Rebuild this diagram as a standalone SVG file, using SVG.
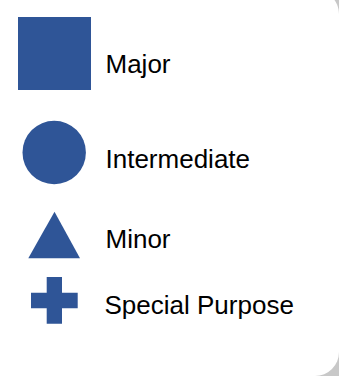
<svg xmlns="http://www.w3.org/2000/svg" width="339" height="376" viewBox="0 0 339 376">
<style>
.shape{fill:#2f5597}
.lbl{font-family:"Liberation Sans",Arial,sans-serif;font-size:26px;fill:#000}
</style>
<rect x="0" y="0" width="339" height="376" fill="#c8c8c8"/>
<rect x="-30" y="-10" width="369" height="386" rx="24" ry="24" fill="#ffffff"/>
<g id="major">
<rect class="shape" x="18" y="17" width="73" height="73"/>
<text class="lbl" x="105.5" y="73">Major</text>
</g>
<g id="intermediate">
<circle class="shape" cx="54.2" cy="152.5" r="31.7"/>
<text class="lbl" x="105.5" y="168">Intermediate</text>
</g>
<g id="minor">
<polygon class="shape" points="54.5,211.7 80,258.3 28.3,258.3"/>
<text class="lbl" x="105.5" y="248">Minor</text>
</g>
<g id="special-purpose">
<polygon class="shape" points="46.7,277 62,277 62,292.7 77.7,292.7 77.7,308.3 62,308.3 62,323.7 46.7,323.7 46.7,308.3 31,308.3 31,292.7 46.7,292.7"/>
<text class="lbl" x="104.5" y="314">Special Purpose</text>
</g>
</svg>
